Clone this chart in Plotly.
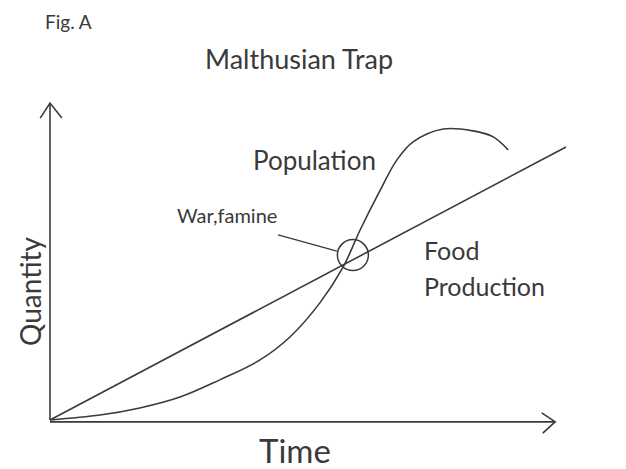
import plotly.graph_objects as go

# ---- data (time units 0..100, quantity units 0..100) ----
food_time = [0, 100]
food_qty = [0, 100]

pop_time = [0, 9.7, 17.4, 25.2, 32.9, 40.7, 46.5, 52.3, 56.8, 60.1, 64.0, 67.2, 70.3, 76.2, 82.0, 85.9, 88.8]
pop_qty = [0, 1.8, 4.4, 8.4, 14.7, 22.0, 30.4, 42.9, 56.0, 69.6, 84.2, 95.2, 101.8, 106.6, 105.9, 103.7, 98.9]

# axes drawn as hand-sketched arrows
yaxis_line_t = [0, 0]
yaxis_line_q = [0, 116.1]
yaxis_head_t = [-1.9, 0, 2.3]
yaxis_head_q = [110.6, 116.1, 110.6]
xaxis_line_t = [0, 97.9]
xaxis_line_q = [-0.7, -0.7]
xaxis_head_t = [95.3, 97.9, 95.5]
xaxis_head_q = [2.6, -0.7, -4.8]

# trap point (intersection) and leader line
trap_t = [58.7]
trap_q = [60.4]
leader_t = [44.2, 55.6]
leader_q = [67.8, 61.9]

INK = "#3a3a3a"
LW = 1.6

fig = go.Figure()


def line(x, y, w=LW):
    fig.add_trace(go.Scatter(x=x, y=y, mode="lines", line=dict(color=INK, width=w),
                             hoverinfo="skip", showlegend=False))


line(yaxis_line_t, yaxis_line_q)
line(yaxis_head_t, yaxis_head_q)
line(xaxis_line_t, xaxis_line_q)
line(xaxis_head_t, xaxis_head_q)
line(food_time, food_qty)
fig.add_trace(go.Scatter(x=pop_time, y=pop_qty, mode="lines", line=dict(color=INK, width=LW, shape="spline"),
                         hoverinfo="skip", showlegend=False))
line(leader_t, leader_q, 1.3)
fig.add_trace(go.Scatter(x=trap_t, y=trap_q, mode="markers",
                         marker=dict(symbol="circle-open", size=31, color=INK, line=dict(width=1.5, color=INK)),
                         hoverinfo="skip", showlegend=False))

FONT = "Lato"


def txt(x, y, s, size, xanchor="center", angle=0, xref="paper", yref="paper"):
    fig.add_annotation(x=x, y=y, xref=xref, yref=yref, text=s, showarrow=False,
                       font=dict(family=FONT, size=size, color=INK),
                       xanchor=xanchor, yanchor="middle", textangle=angle)


W, H = 626, 469
txt(68 / W, 1 - 22 / H, "Fig. A", 19)
txt(299 / W, 1 - 58 / H, "Malthusian Trap", 27)
txt(314 / W, 1 - 160 / H, "Population", 26)
txt(227 / W, 1 - 215 / H, "War,famine", 20)
txt(422 / W, 1 - 250 / H, "Food", 25, xanchor="left")
txt(422 / W, 1 - 286 / H, "Production", 25, xanchor="left")
txt(295 / W, 1 - 450 / H, "Time", 33)
txt(30 / W, 1 - 292 / H, "Quantity", 28, angle=-90)

fig.update_layout(
    width=W, height=H,
    margin=dict(l=0, r=0, t=0, b=0),
    paper_bgcolor="white", plot_bgcolor="white",
    xaxis=dict(range=[-9.69, 111.63], visible=False, fixedrange=True),
    yaxis=dict(range=[-17.95, 153.85], visible=False, fixedrange=True),
    showlegend=False,
)

fig.write_html("out.html", config={"displayModeBar": False},
               post_script="document.body.style.margin='0';document.body.style.overflow='hidden';")
